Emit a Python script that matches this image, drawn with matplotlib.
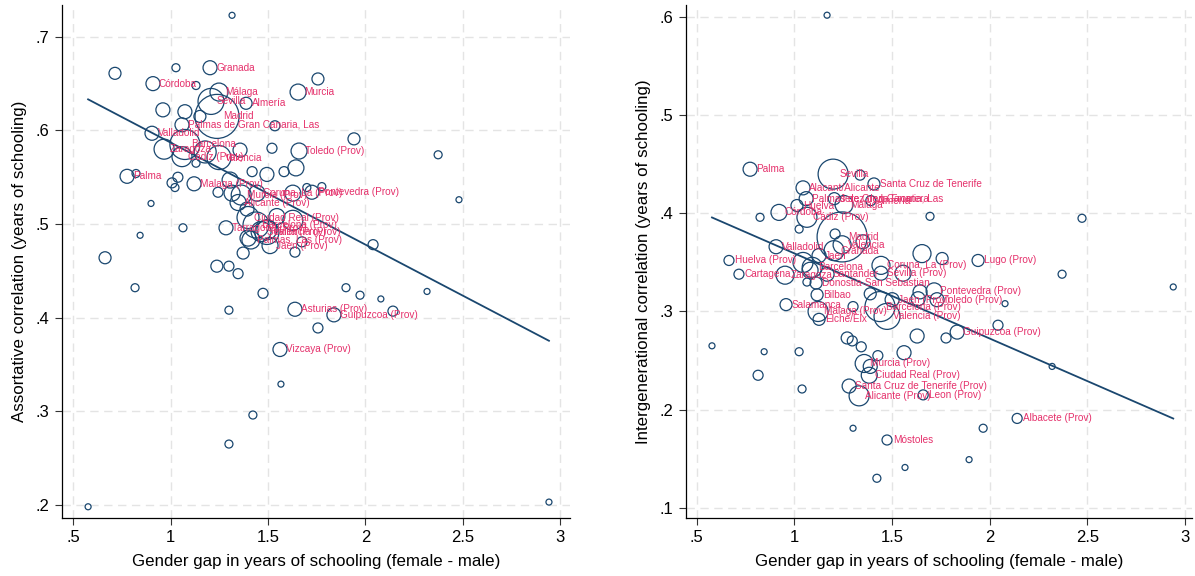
import matplotlib
matplotlib.use("Agg")
import matplotlib.pyplot as plt
import numpy as np

plt.rcParams['font.family'] = ['Liberation Sans', 'DejaVu Sans']

# ---------------- Left panel data (assortative correlation) ----------------
left_x = [1.315, 0.714, 1.027, 1.202, 0.909, 1.130, 1.756, 1.654, 1.248, 1.207,
          1.238, 1.387, 0.960, 1.073, 1.150, 1.058, 1.535, 0.904, 1.941, 1.520,
          1.073, 0.966, 1.058, 1.248, 1.659, 1.130, 1.643, 1.582, 1.418, 2.373,
          0.776, 0.822, 1.007, 1.037, 1.022, 1.120, 0.899, 1.243, 1.315, 1.346,
          1.362, 1.392, 1.397, 1.494, 1.284, 1.438, 1.464, 1.494, 1.412, 1.510,
          1.397, 1.545, 1.627, 1.638, 1.674, 1.443, 1.725, 1.699, 1.776, 1.627,
          2.039, 1.063, 0.843, 0.663, 1.372, 1.237, 1.299, 1.346, 0.817, 1.474,
          1.299, 1.638, 1.838, 1.900, 1.972, 2.079, 2.141, 2.316, 1.756, 1.561,
          1.566, 1.422, 1.299, 0.576, 2.942, 2.480, 1.305, 1.494, 1.177, 1.356]
left_y = [0.723, 0.661, 0.667, 0.667, 0.650, 0.648, 0.655, 0.641, 0.641, 0.631,
          0.615, 0.629, 0.622, 0.620, 0.615, 0.606, 0.605, 0.597, 0.591, 0.581,
          0.585, 0.580, 0.572, 0.571, 0.578, 0.565, 0.560, 0.556, 0.556, 0.574,
          0.551, 0.554, 0.544, 0.550, 0.539, 0.543, 0.522, 0.534, 0.533, 0.523,
          0.531, 0.516, 0.507, 0.494, 0.496, 0.499, 0.492, 0.491, 0.483, 0.477,
          0.485, 0.508, 0.504, 0.470, 0.481, 0.533, 0.534, 0.539, 0.540, 0.533,
          0.478, 0.496, 0.488, 0.464, 0.469, 0.455, 0.455, 0.447, 0.432, 0.426,
          0.408, 0.409, 0.403, 0.432, 0.424, 0.420, 0.407, 0.428, 0.389, 0.366,
          0.329, 0.296, 0.265, 0.198, 0.203, 0.526, 0.547, 0.553, 0.577, 0.579]
left_w = [9, 36, 16, 49, 49, 16, 36, 64, 81, 169,
          484, 36, 49, 49, 36, 49, 25, 49, 36, 25,
          225, 100, 100, 144, 64, 16, 64, 25, 25, 16,
          49, 16, 25, 25, 16, 49, 9, 25, 64, 64,
          100, 49, 121, 100, 49, 169, 100, 144, 81, 64,
          64, 64, 100, 25, 25, 64, 49, 16, 16, 64,
          25, 16, 9, 36, 36, 36, 25, 25, 16, 25,
          16, 49, 49, 16, 16, 9, 25, 9, 25, 49,
          9, 16, 16, 9, 9, 9, 64, 49, 121, 49]
left_lab = {3: "Granada", 4: "Córdoba", 7: "Murcia", 8: "Málaga", 9: "Sevilla",
            10: "Madrid", 11: "Almería", 15: "Palmas de Gran Canaria, Las",
            17: "Valladolid", 20: "Barcelona", 21: "Zaragoza", 22: "Cádiz (Prov)",
            23: "Valencia", 24: "Toledo (Prov)", 30: "Palma", 35: "Malaga (Prov)",
            39: "Alicante (Prov)", 40: "Murcia (Prov)", 42: "Ciudad Real (Prov)",
            44: "Tarragona (Prov)", 45: "Barcelona (Prov)", 46: "Sevilla (Prov)",
            47: "Valencia (Prov)", 48: "Palmas, Las (Prov)", 49: "Jaen (Prov)",
            55: "Coruna, La (Prov)", 56: "Pontevedra (Prov)", 71: "Asturias (Prov)",
            72: "Guipuzcoa (Prov)", 79: "Vizcaya (Prov)"}
left_fit = (0.696, -0.109)   # intercept, slope

# ---------------- Right panel data (intergenerational correlation) ----------------
right_x = [1.167, 0.773, 1.198, 1.336, 1.407, 1.044, 1.060, 1.204, 1.391, 1.254,
           0.921, 1.013, 1.064, 0.824, 1.694, 1.244, 1.244, 1.351, 1.203, 0.906,
           1.024, 1.208, 1.126, 0.665, 0.716, 0.952, 1.091, 1.167, 1.111, 1.443,
           1.443, 1.556, 1.940, 1.715, 1.653, 1.756, 1.116, 1.730, 1.500, 1.044,
           1.080, 1.064, 1.643, 1.633, 2.078, 0.957, 1.121, 1.126, 1.438, 1.474,
           1.833, 2.042, 1.776, 1.628, 1.270, 1.296, 1.342, 1.427, 1.561, 1.357,
           1.388, 1.383, 1.280, 1.331, 1.659, 0.578, 0.845, 1.024, 0.814, 1.039,
           1.300, 1.474, 1.966, 2.140, 2.319, 1.894, 1.422, 1.566, 2.472, 2.370,
           2.939, 1.300, 1.388]
right_y = [0.602, 0.445, 0.440, 0.439, 0.430, 0.426, 0.415, 0.415, 0.413, 0.409,
           0.401, 0.408, 0.396, 0.396, 0.397, 0.376, 0.368, 0.371, 0.362, 0.366,
           0.384, 0.379, 0.357, 0.352, 0.338, 0.337, 0.345, 0.338, 0.329, 0.347,
           0.339, 0.339, 0.352, 0.321, 0.359, 0.354, 0.317, 0.312, 0.312, 0.350,
           0.342, 0.330, 0.320, 0.313, 0.308, 0.307, 0.300, 0.292, 0.305, 0.295,
           0.279, 0.286, 0.273, 0.275, 0.273, 0.270, 0.264, 0.255, 0.258, 0.247,
           0.244, 0.235, 0.224, 0.214, 0.215, 0.265, 0.259, 0.259, 0.235, 0.221,
           0.181, 0.169, 0.181, 0.191, 0.244, 0.149, 0.130, 0.141, 0.395, 0.338,
           0.325, 0.305, 0.318]
right_w = [9, 49, 225, 25, 36, 49, 49, 36, 25, 81,
           64, 36, 100, 16, 16, 625, 81, 49, 100, 49,
           16, 25, 49, 25, 25, 81, 100, 49, 36, 81,
           49, 64, 36, 64, 81, 36, 36, 49, 49, 100,
           64, 16, 49, 49, 9, 36, 100, 36, 225, 169,
           49, 25, 25, 49, 36, 25, 25, 25, 49, 81,
           49, 64, 49, 100, 25, 9, 9, 16, 25, 16,
           9, 25, 16, 25, 9, 9, 16, 9, 16, 16,
           9, 25, 36]
right_lab = {1: "Palma", 2: "Sevilla", 4: "Santa Cruz de Tenerife", 5: "Alacant/Alicante",
             6: "Palmas de Gran Canaria, Las", 7: "Jerez de la Frontera", 8: "Almería",
             9: "Málaga", 10: "Córdoba", 11: "Huelva", 12: "Cádiz (Prov)", 15: "Madrid",
             16: "Valencia", 18: "Granada", 19: "Valladolid", 22: "Jaen",
             23: "Huelva (Prov)", 24: "Cartagena", 25: "Zaragoza", 26: "Barcelona",
             27: "Santander", 28: "Donostia-San Sebastian", 29: "Coruna, La (Prov)",
             30: "Sevilla (Prov)", 32: "Lugo (Prov)", 33: "Pontevedra (Prov)",
             36: "Bilbao", 37: "Toledo (Prov)", 38: "Jaen (Prov)", 45: "Salamanca",
             46: "Malaga (Prov)", 47: "Elche/Elx", 48: "Barcelona (Prov)",
             49: "Valencia (Prov)", 50: "Guipuzcoa (Prov)", 59: "Murcia (Prov)",
             61: "Ciudad Real (Prov)", 62: "Santa Cruz de Tenerife (Prov)",
             63: "Alicante (Prov)", 64: "Leon (Prov)", 71: "Móstoles", 73: "Albacete (Prov)"}
right_fit = (0.446, -0.0868)

x_ticks = [0.5, 1, 1.5, 2, 2.5, 3]
left_yticks = [0.2, 0.3, 0.4, 0.5, 0.6, 0.7]
right_yticks = [0.1, 0.2, 0.3, 0.4, 0.5, 0.6]
x_title = "Gender gap in years of schooling (female - male)"
left_ytitle = "Assortative correlation (years of schooling)"
right_ytitle = "Intergenerational correlation (years of schooling)"

NAVY = '#1a476f'
PINK = '#e5306b'


def fmt(v):
    s = ('%g' % v)
    if s.startswith('0.'):
        s = s[1:]
    return s


def panel(ax, xs, ys, ws, labs, fit, yticks, ytitle, xlim, ylim):
    xs = np.asarray(xs); ys = np.asarray(ys); ws = np.asarray(ws, float)
    sizes = ws * (1.44 ** 2)
    order = np.argsort(-ws)
    ax.scatter(xs[order], ys[order], s=sizes[order], facecolors='none',
               edgecolors=NAVY, linewidths=0.9, zorder=3)
    xx = np.array([xs.min(), xs.max()])
    ax.plot(xx, fit[0] + fit[1] * xx, color=NAVY, lw=1.3, zorder=4)
    for i, t in labs.items():
        ax.annotate(t, (xs[i], ys[i]), xytext=(4.3, 0), textcoords='offset points',
                    ha='left', va='center', fontsize=7.2, color=PINK, zorder=5)
    ax.set_xlim(*xlim); ax.set_ylim(*ylim)
    ax.set_xticks(x_ticks); ax.set_xticklabels([fmt(v) for v in x_ticks])
    ax.set_yticks(yticks); ax.set_yticklabels([fmt(v) for v in yticks])
    ax.grid(True, color='#e4e4e4', linestyle=(0, (6, 4)), linewidth=1.0, zorder=0)
    ax.set_axisbelow(True)
    for sp in ['top', 'right']:
        ax.spines[sp].set_visible(False)
    for sp in ['left', 'bottom']:
        ax.spines[sp].set_color('#000000')
        ax.spines[sp].set_linewidth(0.9)
    ax.tick_params(direction='out', length=5, width=0.8, color='#333333',
                   labelsize=12, pad=4)
    ax.set_xlabel(x_title, fontsize=12.2, labelpad=6)
    ax.set_ylabel(ytitle, fontsize=12.2, labelpad=6)


fig = plt.figure(figsize=(11.95, 5.76), dpi=100)
ax1 = fig.add_axes([62 / 1195, 1 - 518 / 576, (570 - 62) / 1195, (518 - 5) / 576])
ax2 = fig.add_axes([686 / 1195, 1 - 518 / 576, (1192 - 686) / 1195, (518 - 5) / 576])

panel(ax1, left_x, left_y, left_w, left_lab, left_fit, left_yticks, left_ytitle,
      (0.442, 3.05), (0.186, 0.734))
panel(ax2, right_x, right_y, right_w, right_lab, right_fit, right_yticks, right_ytitle,
      (0.445, 3.035), (0.0895, 0.6124))

fig.savefig('out.png', dpi=100, facecolor='white')
